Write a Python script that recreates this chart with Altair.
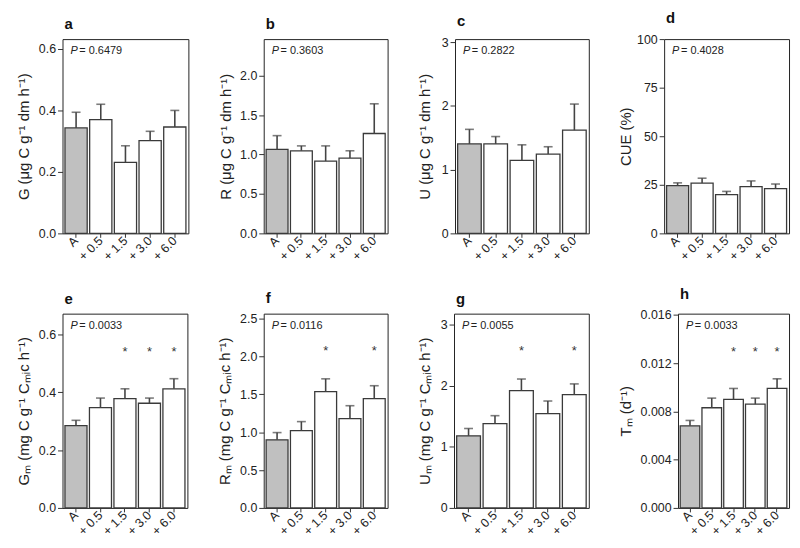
import altair as alt
import pandas as pd

FONT = "Liberation Sans"
categories = ["A", "+ 0.5", "+ 1.5", "+ 3.0", "+ 6.0"]
fills = ["#c0c0c0", "#ffffff", "#ffffff", "#ffffff", "#ffffff"]

# panel a: G
g_mean = [0.343, 0.370, 0.231, 0.302, 0.346]
g_top = [0.394, 0.420, 0.285, 0.332, 0.400]
# panel b: R
r_mean = [1.065, 1.048, 0.918, 0.956, 1.267]
r_top = [1.24, 1.11, 1.11, 1.048, 1.644]
# panel c: U
u_mean = [1.404, 1.404, 1.146, 1.245, 1.62]
u_top = [1.633, 1.52, 1.39, 1.36, 2.03]
# panel d: CUE
cue_mean = [24.6, 25.9, 19.9, 24.1, 23.0]
cue_top = [26.0, 28.4, 21.6, 27.0, 25.4]
# panel e: Gm
gm_mean = [0.285, 0.347, 0.378, 0.362, 0.412]
gm_top = [0.303, 0.380, 0.412, 0.380, 0.447]
# panel f: Rm
rm_mean = [0.899, 1.02, 1.535, 1.18, 1.444]
rm_top = [0.995, 1.14, 1.705, 1.35, 1.614]
# panel g: Um
um_mean = [1.18, 1.38, 1.92, 1.545, 1.853]
um_top = [1.30, 1.51, 2.11, 1.75, 2.03]
# panel h: Tm
tm_mean = [0.0068, 0.0083, 0.0090, 0.0086, 0.0099]
tm_top = [0.00725, 0.0091, 0.0099, 0.0091, 0.0107]

p_values = ["0.6479", "0.3603", "0.2822", "0.4028", "0.0033", "0.0116", "0.0055", "0.0033"]
star_e = ["", "", "*", "*", "*"]
star_f = ["", "", "*", "", "*"]
star_g = ["", "", "*", "", "*"]
star_h = ["", "", "*", "*", "*"]


def panel(letter, means, tops, ytitle, domain, ticks, fmt, pval, tpad,
          stars=None, star_y=None, width=126):
    df = pd.DataFrame({"cat": categories, "mean": means, "top": tops, "fill": fills,
                       "star": stars if stars else [""] * 5,
                       "sy": [star_y if star_y else 0] * 5})
    xaxis = alt.Axis(labelAngle=-45, labelAlign="right", labelBaseline="middle",
                     domain=False, tickSize=4, labelPadding=1)
    xscale = alt.Scale(paddingInner=0.1, paddingOuter=0.1)
    x = alt.X("cat:N", sort=categories, title=None, scale=xscale, axis=xaxis)
    yscale = alt.Scale(domain=domain, nice=False, zero=True)
    yaxis = alt.Axis(values=ticks, format=fmt, domain=False, tickSize=5, labelPadding=2,
                     titlePadding=tpad, grid=False, labelOverlap=False, labelBound=False)

    def Y(field):
        return alt.Y(field, scale=yscale, axis=yaxis, title=ytitle)

    base = alt.Chart(df)
    bars = base.mark_bar(stroke="#3a3a3a", strokeWidth=1.3).encode(
        x=x, y=Y("mean:Q"), fill=alt.Fill("fill:N", scale=None))
    rules = base.mark_rule(color="#444444", strokeWidth=1.6).encode(
        x=x, y=Y("mean:Q"), y2="top:Q")
    caps = base.mark_tick(color="#444444", thickness=1.6, size=9).encode(
        x=x, y=Y("top:Q"))
    pdf = pd.DataFrame({"p": ["P"], "v": ["= " + pval]})
    pt = alt.Chart(pdf).mark_text(font=FONT, fontSize=11, fontStyle="italic", align="left",
                                  baseline="middle", color="#222").encode(
        x=alt.value(8), y=alt.value(12), text="p:N")
    vt = alt.Chart(pdf).mark_text(font=FONT, fontSize=11, align="left",
                                  baseline="middle", color="#222").encode(
        x=alt.value(17), y=alt.value(12), text="v:N")
    layers = [bars, rules, caps, pt, vt]
    if stars:
        st = base.mark_text(font=FONT, fontSize=13, color="#333", baseline="middle").encode(
            x=x, y=Y("sy:Q"), text="star:N")
        layers.append(st)
    return alt.layer(*layers).properties(
        width=width, height=196,
        title=alt.TitleParams(letter, anchor="start", frame="group", fontSize=15,
                              fontWeight="bold", font=FONT, offset=7, dx=2, color="#111"))


a = panel("a", g_mean, g_top, "G (μg C g⁻¹ dm h⁻¹)", [0, 0.632], [0, 0.2, 0.4, 0.6], ".1f",
          p_values[0], 6.6, width=127)
b = panel("b", r_mean, r_top, "R (μg C g⁻¹ dm h⁻¹)", [0, 2.465], [0, 0.5, 1.0, 1.5, 2.0], ".1f",
          p_values[1], 6.6, width=125)
c = panel("c", u_mean, u_top, "U (μg C g⁻¹ dm h⁻¹)", [0, 3.05], [0, 1, 2, 3], "d",
          p_values[2], 9, width=135)
d = panel("d", cue_mean, cue_top, "CUE (%)", [0, 100], [0, 25, 50, 75, 100], "d",
          p_values[3], 3.1, width=126)
e = panel("e", gm_mean, gm_top, "Gₘ (mg C g⁻¹ Cₘᵢc h⁻¹)", [0, 0.672], [0, 0.2, 0.4, 0.6], ".1f",
          p_values[4], 6.6, star_e, 0.54, width=126)
f = panel("f", rm_mean, rm_top, "Rₘ (mg C g⁻¹ Cₘᵢc h⁻¹)", [0, 2.566], [0, 0.5, 1.0, 1.5, 2.0, 2.5], ".1f",
          p_values[5], 7.6, star_f, 2.07, width=125)
g = panel("g", um_mean, um_top, "Uₘ (mg C g⁻¹ Cₘᵢc h⁻¹)", [0, 3.18], [0, 1, 2, 3], "d",
          p_values[6], 8, star_g, 2.56, width=136)
h = panel("h", tm_mean, tm_top, "Tₘ (d⁻¹)", [0, 0.0161], [0, 0.004, 0.008, 0.012, 0.016], ".3f",
          p_values[7], 6.7, star_h, 0.0129, width=112)

row1 = alt.hconcat(a, b, c, d, spacing=28)
row2 = alt.hconcat(e, f, g, h, spacing=28)
chart = alt.vconcat(row1, row2, spacing=22).configure_view(
    stroke="#222", strokeWidth=1
).configure_axis(
    labelFont=FONT, titleFont=FONT, labelFontSize=12.5, titleFontSize=15,
    titleFontWeight="normal", labelColor="#222", titleColor="#222", tickColor="#333"
).properties(padding={"left": 8, "top": 0, "right": 2, "bottom": 0}, background="white")

chart.save("out.html", embed_options={"renderer": "svg", "actions": False})
